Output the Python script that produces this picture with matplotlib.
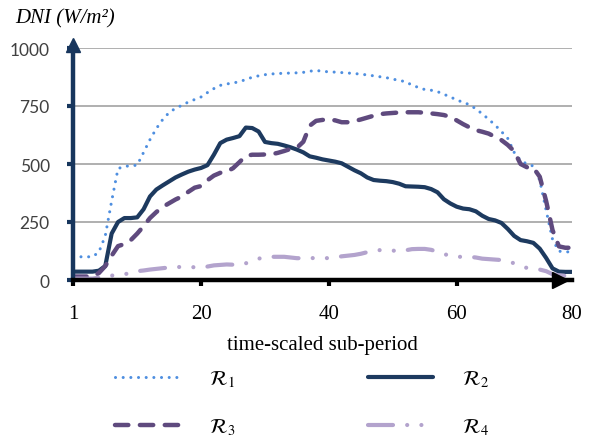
import matplotlib
matplotlib.use("Agg")
import matplotlib.pyplot as plt
import numpy as np

# ---- data ----
tick_positions = [0, 20, 40, 60, 78]
tick_labels = ["1", "20", "40", "60", "80"]
y_ticks = [0, 250, 500, 750, 1000]

r1 = [100, 100, 100, 100, 120, 190, 340, 480, 490, 492, 495, 550, 605, 653, 692, 722, 740, 753, 767, 778,
      789, 808, 825, 839, 845, 849, 855, 864, 874, 880, 885, 888, 890, 891, 892, 893, 895, 900, 903, 900,
      897, 896, 894, 892, 890, 887, 884, 880, 876, 872, 866, 860, 855, 840, 830, 821, 818, 812, 800, 790,
      775, 767, 755, 738, 716, 693, 668, 640, 610, 550, 515, 500, 491, 430, 300, 175, 124, 122, 120]
r2 = [36, 36, 36, 36, 40, 60, 200, 250, 267, 267, 270, 305, 360, 390, 408, 425, 442, 455, 467, 476,
      483, 495, 540, 590, 605, 612, 620, 657, 655, 640, 595, 590, 587, 580, 572, 562, 550, 533, 527, 520,
      515, 510, 503, 488, 473, 460, 442, 431, 428, 426, 422, 415, 404, 403, 402, 400, 392, 378, 348, 330,
      316, 308, 305, 296, 277, 263, 257, 246, 220, 190, 172, 167, 160, 135, 95, 50, 36, 35, 35]
r3 = [15, 15, 15, 15, 30, 60, 105, 146, 155, 172, 200, 232, 267, 293, 315, 331, 347, 360, 380, 398,
      405, 430, 450, 462, 467, 482, 508, 535, 540, 540, 541, 542, 548, 556, 565, 570, 596, 665, 686, 690,
      692, 688, 680, 680, 685, 692, 700, 708, 715, 718, 720, 722, 723, 723, 723, 721, 718, 715, 711, 703,
      688, 672, 658, 646, 639, 631, 617, 603, 582, 555, 500, 486, 484, 445, 340, 215, 145, 139, 139]
r4 = [6, 6, 6, 6, 10, 15, 19, 22, 25, 30, 38, 41, 45, 48, 51, 54, 56, 56, 56, 55,
      53, 58, 63, 65, 67, 66, 64, 72, 82, 92, 98, 100, 100, 100, 97, 94, 94, 94, 95, 95,
      94, 98, 102, 105, 108, 113, 120, 125, 129, 129, 127, 123, 128, 133, 134, 134, 130, 122, 112, 104,
      100, 100, 100, 97, 92, 90, 88, 86, 80, 72, 60, 52, 48, 45, 38, 25, 20, 18, 17]
labels = [r"$\mathcal{R}_1$", r"$\mathcal{R}_2$", r"$\mathcal{R}_3$", r"$\mathcal{R}_4$"]

x = np.arange(len(r1))

plt.rcParams["mathtext.fontset"] = "stix"

W, H = 591, 439
fig = plt.figure(figsize=(W / 100, H / 100), dpi=100)
ax = fig.add_axes([73.3 / W, 1 - 281 / H, (571.7 - 73.3) / W, (281 - 49) / H])

c1, c2, c3, c4 = "#4f8fe0", "#1d3a5f", "#5f4a7e", "#b3a3cd"
navy_axis = "#17365d"

l1, = ax.plot(x, r1, color=c1, lw=2.2, linestyle=(0, (0.01, 2.5)), dash_capstyle="round",
              solid_capstyle="round", label=labels[0], zorder=3)
l2, = ax.plot(x, r2, color=c2, lw=3.0, solid_capstyle="round", solid_joinstyle="round",
              label=labels[1], zorder=3)
l3, = ax.plot(x, r3, color=c3, lw=3.2, linestyle=(0, (3.0, 2.6)), dash_capstyle="round",
              label=labels[2], zorder=3)
l4, = ax.plot(x, r4, color=c4, lw=3.0, linestyle=(0, (6.0, 3.4, 0.01, 3.4, 0.01, 3.4)),
              dash_capstyle="round", label=labels[3], zorder=3)

ax.set_xlim(0, 78)
ax.set_ylim(0, 1000)

# grid
ax.set_yticks(y_ticks)
ax.yaxis.grid(True, color="#9a9a9a", lw=1.1)
ax.set_axisbelow(True)

for s in ["top", "right"]:
    ax.spines[s].set_visible(False)
ax.spines["left"].set_color(navy_axis)
ax.spines["left"].set_linewidth(3.2)
ax.spines["bottom"].set_color("black")
ax.spines["bottom"].set_linewidth(3.2)
ax.spines["left"].set_zorder(4)
ax.spines["bottom"].set_zorder(4)

# arrows
ax.plot(0, 1.015, marker="^", color=navy_axis, markersize=10, transform=ax.get_xaxis_transform(),
        clip_on=False, zorder=5)
ax.plot(0.976, 0, marker=">", color="black", markersize=11, transform=ax.get_yaxis_transform(),
        clip_on=False, zorder=5)

ax.set_yticklabels([str(v) for v in y_ticks], fontfamily="Lato", fontsize=12.5, color="#404040")
ax.tick_params(axis="y", direction="out", length=4, width=3, color=navy_axis, pad=13)

ax.set_xticks(tick_positions)
ax.set_xticklabels(tick_labels, fontfamily="Liberation Serif", fontsize=15, color="black")
ax.tick_params(axis="x", direction="out", length=4, width=3, color="black", pad=13)
xt = ax.xaxis.get_major_ticks()
xt[-1].tick1line.set_visible(False)

ax.set_xlabel("time-scaled sub-period", fontfamily="Liberation Serif", fontsize=15, labelpad=9)

fig.text(15 / W, 1 - 23 / H, "DNI (W/m²)", fontfamily="Liberation Serif", fontstyle="italic",
         fontsize=15, ha="left", va="baseline")

leg = fig.legend([l1, l3, l2, l4], [labels[0], labels[2], labels[1], labels[3]],
                 ncol=2, frameon=False, loc="upper left",
                 bbox_to_anchor=(115 / W, 1 - 369 / H), borderpad=0, borderaxespad=0,
                 handlelength=3.1, handletextpad=1.4, columnspacing=6.4, labelspacing=1.33,
                 fontsize=15)

fig.savefig("out.png", dpi=100)
